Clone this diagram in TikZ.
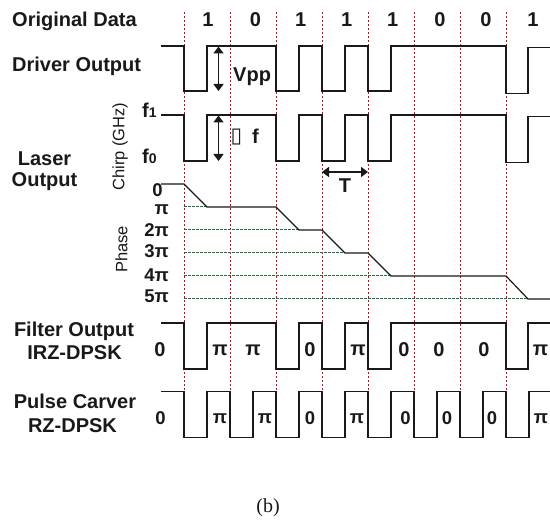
\documentclass[tikz,border=0pt]{standalone}
\usepackage{fontspec}
\setmainfont{Liberation Sans}
\newfontfamily\seriffont{Liberation Serif}
\newfontfamily\symfont{DejaVu Sans}
\usetikzlibrary{arrows.meta}
\definecolor{redd}{RGB}{228,0,10}
\definecolor{grn}{RGB}{25,115,55}
\definecolor{ink}{RGB}{25,25,25}
\begin{document}
\begin{tikzpicture}[x=1pt,y=-1pt,
  wave/.style={line width=1.2pt, draw=ink, line join=miter},
  reddash/.style={line width=1pt, draw=redd, dash pattern=on 2pt off 2pt},
  grndash/.style={line width=1pt, draw=grn, dash pattern=on 2.5pt off 1.5pt},
  big/.style={font=\bfseries\fontsize{20}{23}\selectfont, inner sep=0pt, text=ink},
  mid/.style={font=\bfseries\fontsize{18.5}{21}\selectfont, inner sep=0pt, text=ink},
  small/.style={font=\bfseries\fontsize{18.5}{20}\selectfont, inner sep=0pt, text=ink},
  axis/.style={font=\fontsize{16.5}{19}\selectfont, inner sep=0pt, text=ink, rotate=90},
  dimarrow/.style={line width=1.4pt, draw=ink,
    {Triangle[width=10pt,length=7pt]}-{Triangle[width=10pt,length=7pt]}}
]
\useasboundingbox (0,0) rectangle (550,521);

% red bit boundaries
\foreach \x in {184,230,276,322,368,414,460,506}
  \draw[reddash] (\x,12) -- (\x,391);

% green phase reference lines
\draw[grndash] (184,207) -- (207,207);
\draw[grndash] (184,230) -- (299,230);
\draw[grndash] (184,253) -- (345,253);
\draw[grndash] (184,276) -- (391,276);
\draw[grndash] (184,299) -- (528,299);

% driver output
\draw[wave] (161,46) -- (184,46) -- (184,91) -- (207,91) -- (207,46) -- (276,46)
  -- (276,91) -- (299,91) -- (299,46) -- (322,46) -- (322,91) -- (345,91) -- (345,46)
  -- (368,46) -- (368,91) -- (391,91) -- (391,46) -- (506,46) -- (506,93.5)
  -- (528,93.5) -- (528,47.5) -- (550,47.5);

% chirp
\draw[wave] (161,115) -- (184,115) -- (184,161) -- (207,161) -- (207,115) -- (276,115)
  -- (276,161) -- (299,161) -- (299,115) -- (322,115) -- (322,161) -- (345,161) -- (345,115)
  -- (368,115) -- (368,161) -- (391,161) -- (391,115) -- (506,115) -- (506,162.5)
  -- (528,162.5) -- (528,116.5) -- (550,116.5);

% phase
\draw[wave] (161,184) -- (184,184) -- (207,207) -- (276,207) -- (299,230) -- (322,230)
  -- (345,253) -- (368,253) -- (391,276) -- (506,276) -- (528,299) -- (550,299);

% filter output
\draw[wave] (161,323) -- (184,323) -- (184,369) -- (207,369) -- (207,323) -- (276,323)
  -- (276,369) -- (299,369) -- (299,323) -- (322,323) -- (322,369) -- (345,369) -- (345,323)
  -- (368,323) -- (368,369) -- (391,369) -- (391,323) -- (506,323) -- (506,369)
  -- (528,369) -- (528,323) -- (550,323);

% pulse carver
\draw[wave] (161,391.5) \foreach \k in {0,...,7} {
   -- ({184+46*\k},391.5) -- ({184+46*\k},437.5) -- ({207+46*\k},437.5) -- ({207+46*\k},391.5) }
   -- (550,391.5);

% row labels
\node[big,anchor=base west] (orig) at (12,27) {Original Data};
\foreach \x/\b [count=\i] in {208/1,255.5/0,300.7/1,346.7/1,392.7/1,440/0,486/0,533/1}
  \node[big,anchor=base] (bit\i) at (\x,27) {\b};
\node[big,anchor=base west] (drv) at (12,72) {Driver Output};
\node[big,anchor=base] (las1) at (44.5,165.5) {Laser};
\node[big,anchor=base] (las2) at (44.5,187) {Output};
\node[big,anchor=base] (fil1) at (74,337) {Filter Output};
\node[big,anchor=base] (fil2) at (74.5,360) {IRZ-DPSK};
\node[big,anchor=base] (pc1) at (75,409) {Pulse Carver};
\node[big,anchor=base] (pc2) at (72.5,433) {RZ-DPSK};

% axis labels
\node[axis] (chirp) at (120,146.5) {Chirp (GHz)};
\node[axis] (phase) at (121.5,249.5) {Phase};
\node[big,anchor=base west] (f1) at (142,118) {f{\fontsize{14}{14}\selectfont 1}};
\node[big,anchor=base west] (f0) at (142,164) {f{\fontsize{14}{14}\selectfont 0}};

% phase levels
\node[mid,anchor=base] (p0) at (157.5,197) {0};
\node[mid,anchor=east] (p1) at (169,210) {π};
\node[mid,anchor=east] (p2) at (169,230.5) {2π};
\node[mid,anchor=east] (p3) at (169,251.5) {3π};
\node[mid,anchor=east] (p4) at (169,275) {4π};
\node[mid,anchor=east] (p5) at (169,296) {5π};

% dimension arrows
\coordinate (vA) at (218.5,46.5);
\coordinate (vB) at (218.5,91);
\draw[dimarrow] (vA) -- (vB);
\node[big,anchor=base west] (vpp) at (233,82) {Vpp};
\coordinate (cA) at (218.5,115.5);
\coordinate (cB) at (218.5,161);
\draw[dimarrow] (cA) -- (cB);
\node[inner sep=0pt, font=\symfont\fontsize{21}{21}\selectfont, text=ink] (dbox) at (236.5,137.5) {▯};
\node[big,anchor=base west] (dff) at (252,144) {f};
\coordinate (tA) at (322,172);
\coordinate (tB) at (368,172);
\draw[dimarrow] (tA) -- (tB);
\node[big] (T) at (345,186) {T};

% filter output phases
\foreach \x/\s [count=\i] in {160/0,220/π,253/π,310/0,358/π,404/0,439/0,484/0,540.5/π}
  \node[big] (fo\i) at (\x,350) {\s};

% pulse carver phases
\foreach \x/\s [count=\i] in {160.5/0,220/π,265/π,310/0,357/π,405.5/0,447/0,492/0,541/π}
  \node[small] (pco\i) at (\x,418.5) {\s};

% caption
\node[inner sep=0pt, font=\seriffont\fontsize{20}{23}\selectfont, text=ink] (cap) at (268,508) {(b)};
\end{tikzpicture}
\end{document}
